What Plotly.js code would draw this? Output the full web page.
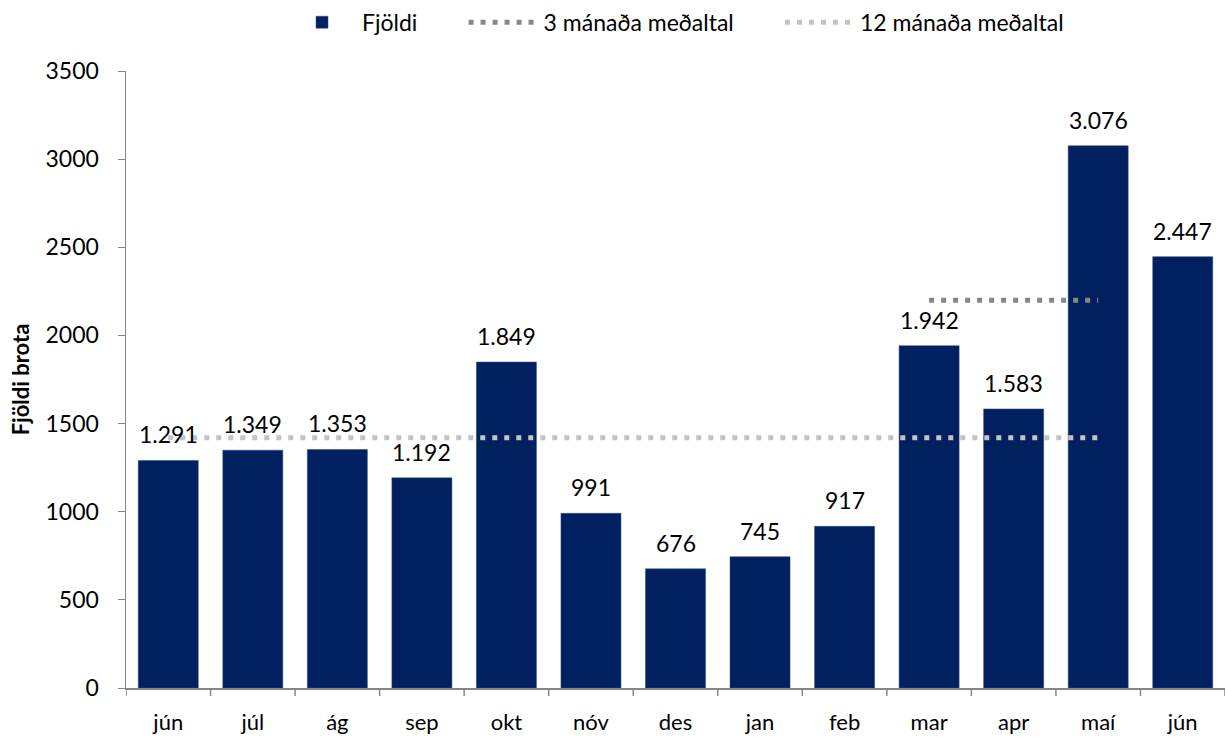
<!DOCTYPE html>
<html>
<head>
<meta charset="utf-8">
<script src="https://cdn.plot.ly/plotly-3.0.1.min.js"></script>
<style>
  html, body { margin: 0; padding: 0; background: #fff; }
  #chart { width: 1225px; height: 738px; }
</style>
</head>
<body>
<div id="chart"></div>
<script>
// Data
const months = ['jún', 'júl', 'ág', 'sep', 'okt', 'nóv', 'des', 'jan', 'feb', 'mar', 'apr', 'maí', 'jún'];
const counts = [1291, 1349, 1353, 1192, 1849, 991, 676, 745, 917, 1942, 1583, 3076, 2447];
const avg3 = [null, null, null, null, null, null, null, null, null, 2200, 2200, 2200, null];
const avg12 = [1420, 1420, 1420, 1420, 1420, 1420, 1420, 1420, 1420, 1420, 1420, 1420, null];

const idx = months.map((m, i) => i);
const font = 'Lato, "Noto Sans", sans-serif';
const axisGrey = '#868686';
// plotly has no gap setting between horizontal legend items, so pad with nbsp
const legendPad = '\u00a0'.repeat(7);

// Icelandic thousands separator is a dot
function fmt(v) {
    return String(v).replace(/\B(?=(\d{3})+(?!\d))/g, '.');
}

const data = [{
    x: idx,
    y: counts,
    name: 'Fjöldi' + legendPad,
    type: 'bar',
    marker: {color: '#002060', line: {color: '#2a4a86', width: 0.5}},
    hoverinfo: 'skip'
}, {
    x: idx,
    y: avg3,
    name: '3 mánaða meðaltal' + legendPad,
    type: 'scatter',
    mode: 'lines',
    line: {color: '#868686', width: 5, dash: '5px,7px'}
}, {
    x: idx,
    y: avg12,
    name: '12 mánaða meðaltal',
    type: 'scatter',
    mode: 'lines',
    line: {color: '#c3c3c3', width: 5, dash: '5px,7px'}
}];

// value labels sit a bit higher above the bars than plotly's own outside text
const labels = counts.map((v, i) => ({
    x: i, y: v, xref: 'x', yref: 'y',
    text: fmt(v),
    showarrow: false,
    yanchor: 'bottom',
    yshift: 10,
    font: {size: 23, color: '#000', family: font}
}));

// category boundary ticks on the x axis
const xticks = months.concat(['']).map((m, i) => ({
    type: 'line', xref: 'x', yref: 'paper',
    x0: i - 0.5, x1: i - 0.5, y0: 0, y1: -0.013,
    line: {color: axisGrey, width: 1.5}
}));

const layout = {
    width: 1225,
    height: 738,
    margin: {l: 126, r: 0, t: 71, b: 50},
    paper_bgcolor: '#fff',
    plot_bgcolor: '#fff',
    font: {family: font, size: 22, color: '#000'},
    bargap: 0.29,
    showlegend: true,
    legend: {
        orientation: 'h',
        x: 0.5,
        xanchor: 'center',
        y: 1.079,
        yanchor: 'middle',
        font: {size: 23},
        itemwidth: 70,
        traceorder: 'normal'
    },
    xaxis: {
        range: [-0.5, 12.5],
        tickvals: idx,
        ticktext: months,
        showgrid: false,
        zeroline: false,
        showline: true,
        linecolor: axisGrey,
        linewidth: 1.5,
        ticks: '',
        tickfont: {size: 22},
        ticklabelstandoff: 14,
        fixedrange: true
    },
    yaxis: {
        range: [0, 3500],
        dtick: 500,
        showgrid: false,
        zeroline: false,
        showline: true,
        linecolor: axisGrey,
        linewidth: 1.5,
        ticks: 'outside',
        ticklen: 7,
        tickcolor: axisGrey,
        tickfont: {size: 23},
        ticklabelstandoff: 14,
        title: {text: '<b>Fjöldi brota</b>', font: {size: 22}, standoff: 10},
        fixedrange: true
    },
    annotations: labels,
    shapes: xticks
};

Plotly.newPlot('chart', data, layout, {staticPlot: true, displayModeBar: false});
</script>
</body>
</html>
